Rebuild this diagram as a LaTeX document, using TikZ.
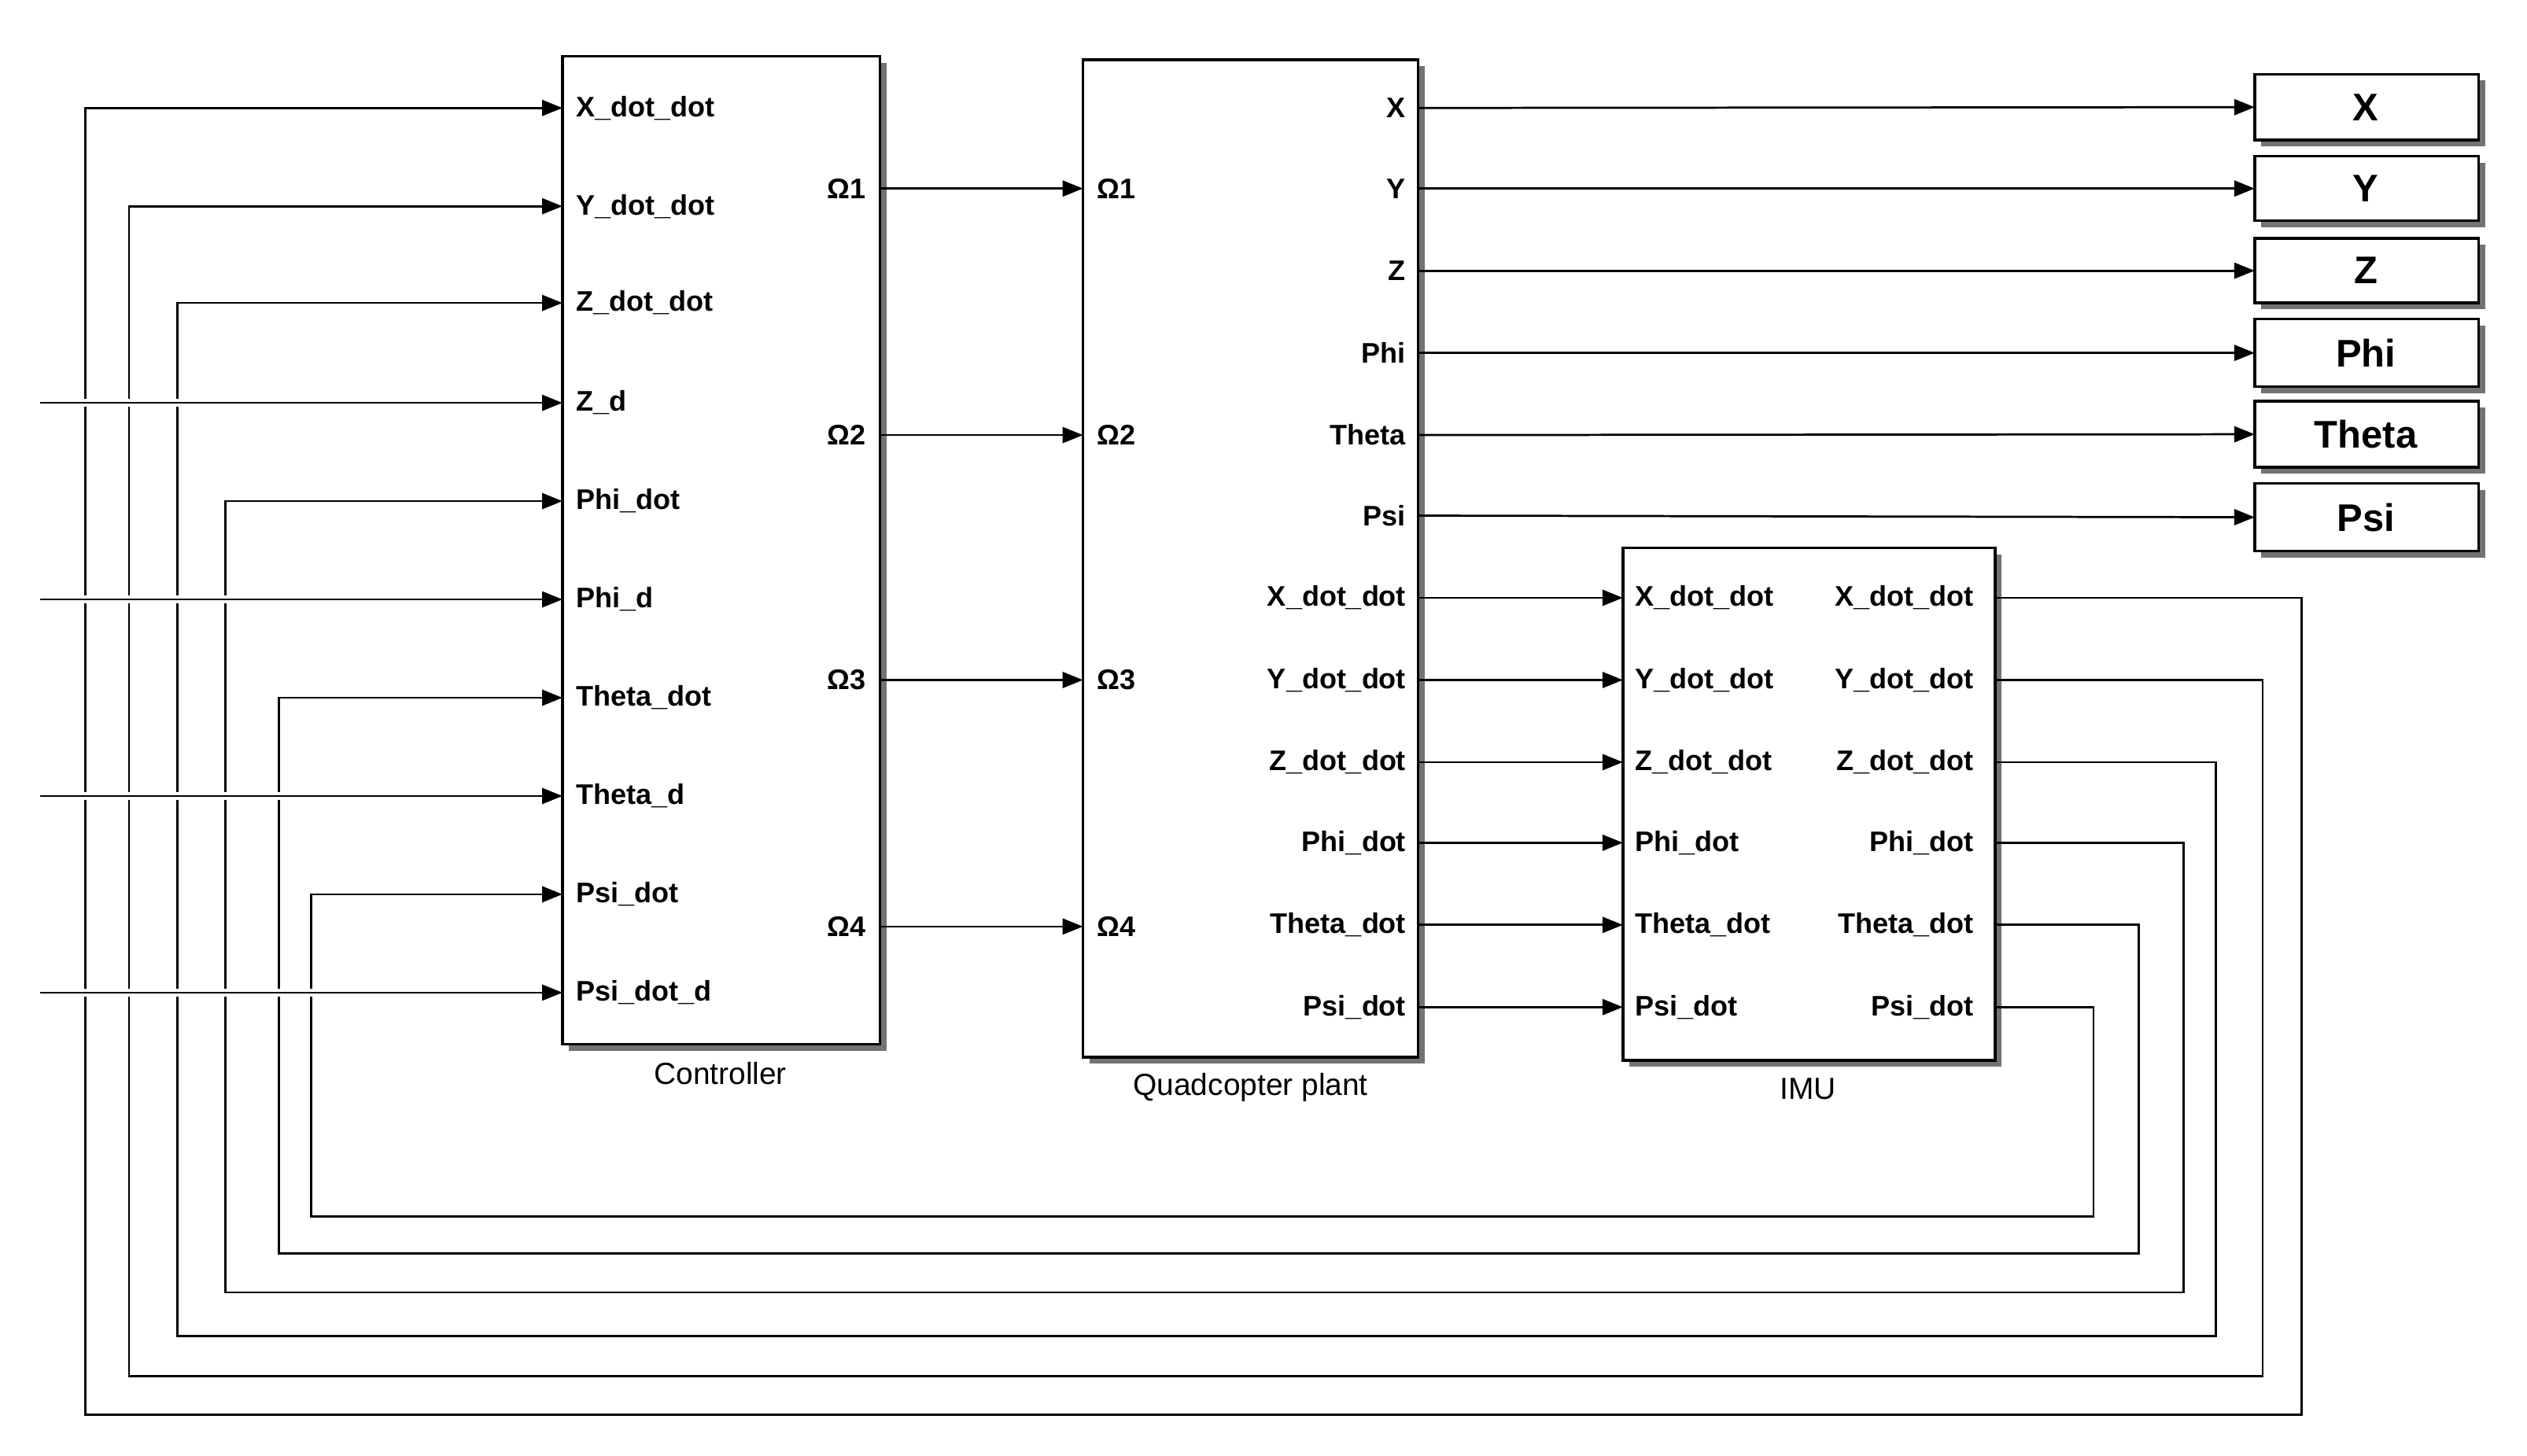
\documentclass[tikz,border=0pt]{standalone}
\usepackage{fontspec}
\setmainfont{Liberation Sans}
\usetikzlibrary{arrows.meta}
\begin{document}
\begin{tikzpicture}[x=0.05cm,y=-0.05cm,line width=1.9pt,
  wire/.style={-{Triangle[length=18pt,width=14pt]}},
  blk/.style={draw,line width=2.4pt,fill=white},
  shad/.style={fill=black!55,draw=none},
  port/.style={font=\fontsize{25}{28}\selectfont\bfseries,inner sep=0pt},
  bname/.style={font=\fontsize{27}{30}\selectfont,inner sep=0pt},
  olab/.style={font=\fontsize{34}{38}\selectfont\bfseries,inner sep=0pt}]
\useasboundingbox (0,0) rectangle (1568,903.6);
% blocks with shadows
\fill[shad] (353,39) rectangle (550,652);
\draw[blk] (349,35) rectangle (546,648);
\fill[shad] (676,41) rectangle (884,660);
\draw[blk] (672,37) rectangle (880,656);
\fill[shad] (1011,344) rectangle (1242,662);
\draw[blk] (1007,340) rectangle (1238,658);
\node[bname] (ctl) at (447,666) {Controller};
\node[bname] (pl) at (776,675) {Quadcopter plant};
\node[bname] (imu) at (1122,676) {IMU};
% output boxes
\foreach \t/\a/\b in {X/46/87,Y/97/137,Z/148/188,Phi/198/240,Theta/249/290,Psi/300/342}{
  \fill[shad] (1403,\a+4) rectangle (1542,\b+4);
  \draw[blk] (1399,\a) rectangle (1538,\b);
  \node[olab] (o\t) at (1468,{(\a+\b)/2}) {\t};
  \coordinate (oi\t) at (1399,{(\a+\b)/2});
}
% controller inputs
\foreach \t/\l/\y in {c1/X\_dot\_dot/67,c2/Y\_dot\_dot/128,c3/Z\_dot\_dot/188,c4/Z\_d/250,c5/Phi\_dot/311,c6/Phi\_d/372,c7/Theta\_dot/433,c8/Theta\_d/494,c9/Psi\_dot/555,c10/Psi\_dot\_d/616}{
  \coordinate (\t) at (349,\y);
  \node[port,anchor=west] at (357,\y) {\l};
}
% controller outputs & plant inputs
\foreach \i/\y in {1/117,2/270,3/422,4/575}{
  \coordinate (co\i) at (546,\y);
  \coordinate (pi\i) at (672,\y);
  \node[port,anchor=east] at (538,\y) {Ω\i};
  \node[port,anchor=west] at (680,\y) {Ω\i};
  \draw[wire] (co\i) -- (pi\i);
}
% plant outputs
\foreach \t/\l/\y in {X/X/67,Y/Y/117,Z/Z/168,Phi/Phi/219,Theta/Theta/270,Psi/Psi/320}{
  \coordinate (po\t) at (880,\y);
  \node[port,anchor=east] at (873,\y) {\l};
  \draw[wire] (po\t) -- (oi\t);
}
\foreach \t/\l/\y in {1/X\_dot\_dot/371,2/Y\_dot\_dot/422,3/Z\_dot\_dot/473,4/Phi\_dot/523,5/Theta\_dot/574,6/Psi\_dot/625}{
  \coordinate (pd\t) at (880,\y);
  \coordinate (ii\t) at (1007,\y);
  \coordinate (io\t) at (1238,\y);
  \node[port,anchor=east] at (873,\y) {\l};
  \node[port,anchor=west] at (1014,\y) {\l};
  \node[port,anchor=east] at (1225,\y) {\l};
  \draw[wire] (pd\t) -- (ii\t);
}
% feedback loops
\draw[wire] (io1) -- (1428,371) -- (1428,878) -- (53,878) |- (c1);
\draw[wire] (io2) -- (1404,422) -- (1404,854) -- (80,854) |- (c2);
\draw[wire] (io3) -- (1375,473) -- (1375,829) -- (110,829) |- (c3);
\draw[wire] (io4) -- (1355,523) -- (1355,802) -- (140,802) |- (c5);
\draw[wire] (io5) -- (1327,574) -- (1327,778) -- (173,778) |- (c7);
\draw[wire] (io6) -- (1299,625) -- (1299,755) -- (193,755) |- (c9);
% free inputs crossing over
\foreach \c/\y in {c4/250,c6/372,c8/494,c10/616}{
  \coordinate (s\c) at (25,\y);
  \draw[white,line width=7pt] (40,\y) -- (210,\y);
  \draw[wire] (s\c) -- (\c);
}
\end{tikzpicture}
\end{document}
